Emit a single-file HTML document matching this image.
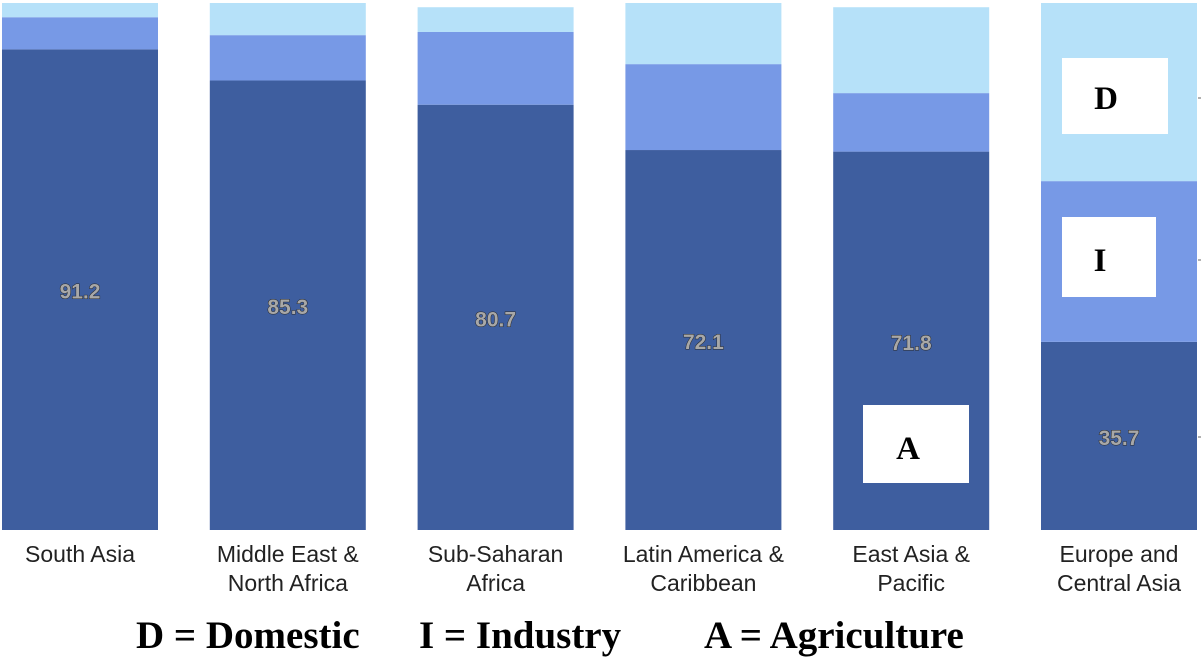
<!DOCTYPE html>
<html><head><meta charset="utf-8"><style>
body{margin:0;background:#fff;width:1201px;height:660px;overflow:hidden}
svg{display:block}
.cat{font-family:"Liberation Sans",sans-serif;font-size:23px;fill:#222}
.val{font-family:"Liberation Sans",sans-serif;font-size:21px;font-weight:bold;fill:#a8a8a8;stroke:#2a2a2a;stroke-width:1;paint-order:stroke}
.box{font-family:"Liberation Serif",serif;font-size:33px;font-weight:bold;fill:#000}
.leg{font-family:"Liberation Serif",serif;font-size:39px;font-weight:bold;fill:#000}
</style></head><body>
<svg id="chart" width="1201" height="660">
<g id="bars"></g>
<g id="labels"></g>
<g>
<line x1="1198" y1="98" x2="1201" y2="98" stroke="#666"/>
<line x1="1198" y1="260" x2="1201" y2="260" stroke="#666"/>
<line x1="1198" y1="437" x2="1201" y2="437" stroke="#666"/>
</g>
<g><rect x="1062" y="58" width="106" height="76" fill="#fff"/><text class="box" x="1106" y="109" text-anchor="middle">D</text></g>
<g><rect x="1062" y="217" width="94" height="80" fill="#fff"/><text class="box" x="1100" y="271" text-anchor="middle">I</text></g>
<g><rect x="863" y="405" width="106" height="78" fill="#fff"/><text class="box" x="908" y="459" text-anchor="middle">A</text></g>
<g>
<text class="leg" x="136" y="648">D = Domestic</text>
<text class="leg" x="419" y="648">I = Industry</text>
<text class="leg" x="704" y="648">A = Agriculture</text>
</g>
</svg>
<script>
const categories=[["South Asia"],["Middle East &","North Africa"],["Sub-Saharan","Africa"],["Latin America &","Caribbean"],["East Asia &","Pacific"],["Europe and","Central Asia"]];
const agriculture=[91.2,85.3,80.7,72.1,71.8,35.7];
const industry=[6.1,8.6,13.8,16.3,11.1,30.5];
const domestic=[2.7,6.1,4.7,11.6,16.3,33.8];
const base=530,scale=5.27,x0=2,step=207.8,bw=156;
const y=v=>base-v*scale;
const ns="http://www.w3.org/2000/svg";
const gb=document.getElementById('bars'),gl=document.getElementById('labels');
function mk(tag,attrs,parent){const e=document.createElementNS(ns,tag);for(const k in attrs)e.setAttribute(k,attrs[k]);parent.appendChild(e);return e;}
categories.forEach((c,i)=>{
 const x=x0+i*step;
 const segs=[[agriculture[i],'#3e5e9f','agriculture'],[industry[i],'#7799e6','industry'],[domestic[i],'#b6e1f9','domestic']];
 let cum=0;
 segs.forEach(s=>{
  const r=mk('rect',{x:x,y:y(cum+s[0]),width:bw,height:s[0]*scale,fill:s[1]},gb);
  
  
  cum+=s[0];
 });
 const t=mk('text',{x:x+bw/2,y:y(agriculture[i]/2)+9,'text-anchor':'middle',class:'val'},gl);
 t.textContent=agriculture[i].toFixed(1);
 
 
 c.forEach((line,j)=>{
  const l=mk('text',{x:x+bw/2,y:562+j*29,'text-anchor':'middle',class:'cat'},gl);
  l.textContent=line;
  
  
 });
});
</script>
</body></html>
